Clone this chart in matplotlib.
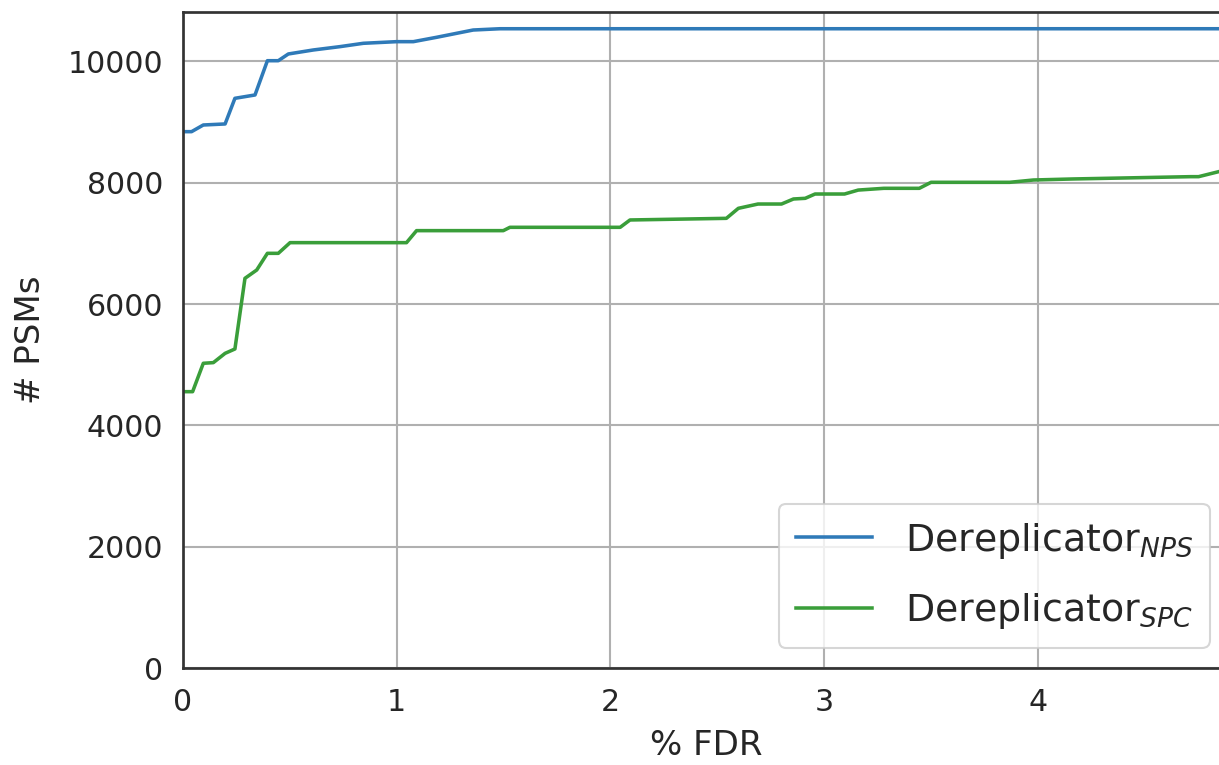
import matplotlib
matplotlib.use("Agg")
import matplotlib.pyplot as plt

# Data
fdr_nps = [0, 0.04, 0.095, 0.197, 0.243, 0.337, 0.395, 0.446, 0.493, 0.61, 0.735,
           0.844, 1.0, 1.078, 1.187, 1.281, 1.358, 1.483, 4.9]
psm_nps = [8843, 8843, 8953, 8970, 9393, 9448, 10013, 10013, 10124, 10190, 10245,
           10300, 10327, 10327, 10399, 10465, 10519, 10540, 10540]

fdr_spc = [0, 0.045, 0.095, 0.142, 0.197, 0.243, 0.29, 0.345, 0.395, 0.446, 0.501,
           1.046, 1.093, 1.499, 1.53, 2.046, 2.092, 2.543, 2.599, 2.691, 2.801,
           2.857, 2.912, 2.958, 3.096, 3.16, 3.28, 3.446, 3.501, 3.869, 3.98,
           4.164, 4.716, 4.753, 4.9]
psm_spc = [4556, 4556, 5024, 5035, 5188, 5260, 6425, 6562, 6837, 6837, 7013,
           7013, 7211, 7211, 7266, 7266, 7387, 7414, 7579, 7650, 7650,
           7733, 7744, 7815, 7815, 7880, 7909, 7909, 8008, 8008, 8046,
           8063, 8101, 8101, 8230]

labels = [r'Dereplicator$_{NPS}$', r'Dereplicator$_{SPC}$']
xticks = [0, 1, 2, 3, 4]
yticks = [0, 2000, 4000, 6000, 8000, 10000]

W, H, DPI = 1219, 765, 150
fig = plt.figure(figsize=(W / DPI, H / DPI), dpi=DPI)
ax = fig.add_axes([183 / W, 1 - 668 / H, 1047 / W, 656 / H])

ax.plot(fdr_nps, psm_nps, color='#2f7ab8', lw=1.7, label=labels[0])
ax.plot(fdr_spc, psm_spc, color='#3a9e3a', lw=1.7, label=labels[1])

ax.set_xlim(0, 4.9)
ax.set_ylim(0, 10816)
ax.set_xticks(xticks)
ax.set_yticks(yticks)
ax.grid(True, color='#b0b0b0', lw=1.0)
ax.set_axisbelow(True)
for s in ax.spines.values():
    s.set_color('#333333')
    s.set_linewidth(1.3)
ax.tick_params(length=0, pad=9.5, labelsize=14.4, colors='#262626')

ax.set_xlabel('% FDR', fontsize=16.3, color='#262626', labelpad=6)
ax.set_ylabel('# PSMs', fontsize=16.3, color='#262626', labelpad=10)

leg = ax.legend(loc='lower right', bbox_to_anchor=(1210 / W, 117 / H),
                bbox_transform=fig.transFigure, borderaxespad=0,
                fontsize=18.2, frameon=True, fancybox=True,
                framealpha=0.8, edgecolor='#cccccc',
                borderpad=0.45, handlelength=2.0, handletextpad=0.87,
                labelspacing=0.8, labelcolor='#262626')

fig.savefig('out.png', dpi=DPI)
